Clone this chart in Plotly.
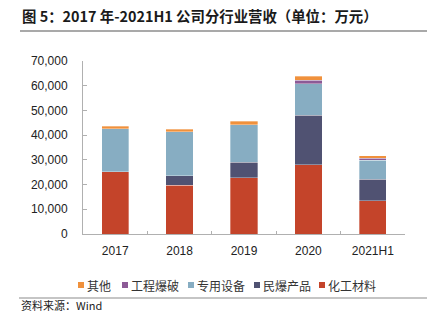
import plotly.graph_objects as go

# Revenue by business segment, unit: 10k CNY
years = ["2017", "2018", "2019", "2020", "2021H1"]
chem_materials = [25200, 19700, 22800, 28000, 13400]     # 化工材料
explosives = [0, 3900, 6200, 20000, 8700]                 # 民爆产品
equipment = [17300, 17700, 15200, 12700, 7800]            # 专用设备
blasting = [0, 0, 0, 1600, 700]                           # 工程爆破
others = [1100, 1100, 1400, 1500, 1000]                   # 其他

series = [
    ("化工材料", chem_materials, "#C4442A"),
    ("民爆产品", explosives, "#505272"),
    ("专用设备", equipment, "#87ADC2"),
    ("工程爆破", blasting, "#8C5A96"),
    ("其他", others, "#F0913C"),
]
legend_order = ["其他", "工程爆破", "专用设备", "民爆产品", "化工材料"]

W, H = 430, 327
L, R, T, B = 83, 25, 61, 93
PW, PH = W - L - R, H - T - B

def px(x):
    return (x - L) / PW

def py(y):
    return (H - B - y) / PH

CJK = "Noto Sans CJK SC"
LAT = "Liberation Sans"

fig = go.Figure()
for name, vals, color in series:
    fig.add_trace(go.Bar(
        x=years, y=vals, name=name, marker_color=color,
        marker_line=dict(width=0.6, color="rgba(255,255,255,0.55)"),
        showlegend=False,
    ))

shapes = [
    # rule under the heading
    dict(type="line", xref="paper", yref="paper", x0=px(20), x1=px(427),
         y0=py(31), y1=py(31), line=dict(color="#8c8c8c", width=1.6)),
    # rule above the source note
    dict(type="line", xref="paper", yref="paper", x0=px(19), x1=px(427),
         y0=py(298), y1=py(298), line=dict(color="#8c8c8c", width=1.2)),
]
annotations = [
    dict(text="<b>图 5：2017 年-2021H1 公司分行业营收（单位：万元）</b>",
         xref="paper", yref="paper", x=px(20), y=py(15), xanchor="left",
         yanchor="middle", showarrow=False, font=dict(family=CJK, size=14.4, color="#1a1a1a")),
    dict(text="资料来源：Wind", xref="paper", yref="paper", x=px(19), y=py(305),
         xanchor="left", yanchor="middle", showarrow=False,
         font=dict(family=CJK, size=11, color="#222")),
]

colors = {n: c for n, _, c in series}
key_x = [78, 122, 188, 254, 319]
for name, kx in zip(legend_order, key_x):
    shapes.append(dict(type="rect", xref="paper", yref="paper",
                       x0=px(kx), x1=px(kx + 6), y0=py(282), y1=py(288),
                       fillcolor=colors[name], line=dict(width=0)))
    annotations.append(dict(text=name, xref="paper", yref="paper", x=px(kx + 7),
                            y=py(285), xanchor="left", yanchor="middle",
                            showarrow=False,
                            font=dict(family=CJK, size=12, color="#333")))

fig.update_layout(
    width=W, height=H,
    margin=dict(l=L, r=R, t=T, b=B),
    paper_bgcolor="white", plot_bgcolor="white",
    barmode="stack", bargap=0.575,
    shapes=shapes, annotations=annotations,
    xaxis=dict(
        type="category", showline=True, linecolor="#b0b0b0", linewidth=1,
        ticks="inside", tickson="boundaries", ticklen=3, tickcolor="#b0b0b0",
        showgrid=False, tickfont=dict(family=LAT, size=12, color="#222"),
        ticklabelstandoff=6,
    ),
    yaxis=dict(
        range=[0, 70000], dtick=10000, tickformat=",",
        showline=True, linecolor="#b0b0b0", linewidth=1,
        ticks="inside", ticklen=4, tickcolor="#b0b0b0",
        showgrid=False, zeroline=False,
        tickfont=dict(family=LAT, size=12, color="#222"),
        ticklabelstandoff=12,
    ),
)

fig.write_html("out.html")
